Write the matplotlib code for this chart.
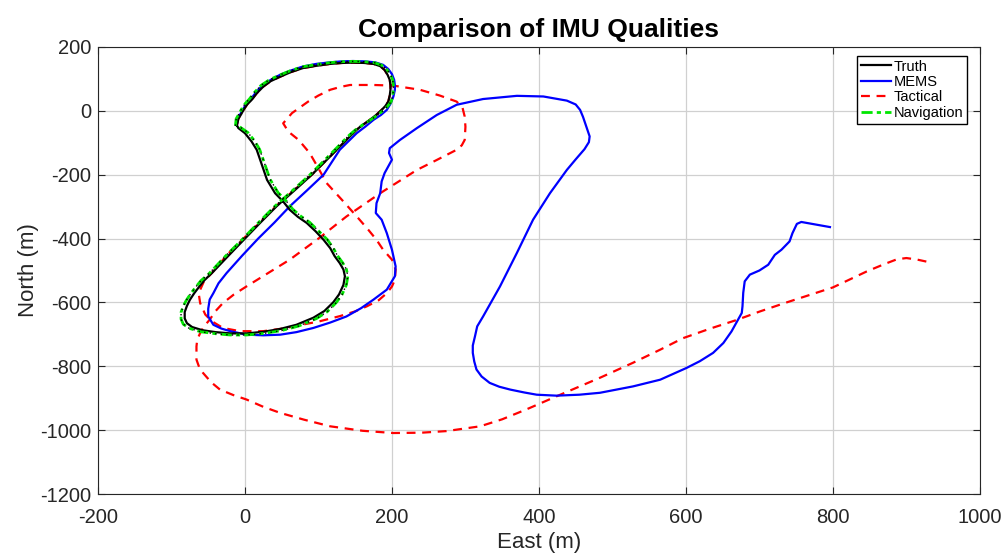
import matplotlib
matplotlib.use("Agg")
import matplotlib.pyplot as plt

plt.rcParams["font.family"] = ["Liberation Sans", "DejaVu Sans"]
plt.rcParams["axes.unicode_minus"] = False

# --- trajectories as (East, North) in metres ---
truth = [(-11, -45), (-9, -25), (-5, -10), (-2, 3), (3, 20), (9, 34), (16, 55), (25, 76),
         (35, 93), (48, 107), (62, 121), (79, 134), (97, 141), (116, 147), (132, 150),
         (147, 151), (162, 150), (175, 147), (184, 140), (190, 128), (194, 113), (197, 97),
         (198, 80), (198, 66), (197, 48), (195, 29), (191, 15), (186, 3), (179, -12),
         (170, -28), (161, -43), (152, -59), (145, -75), (138, -91), (115, -145), (91, -200),
         (67, -250), (43, -299), (21, -350), (0, -400), (-23, -455), (-45, -508), (-55, -530),
         (-62, -550), (-69, -571), (-75, -592), (-79, -611), (-82, -630), (-82, -650),
         (-79, -665), (-72, -677), (-58, -687), (-40, -693), (-20, -697), (2, -697),
         (25, -692), (48, -683), (70, -670), (93, -648), (108, -627), (120, -600),
         (128, -575), (134, -545), (136, -518), (134, -497), (129, -477), (122, -455),
         (116, -430), (107, -404), (96, -377), (84, -351), (72, -332), (61, -310), (52, -284),
         (41, -258), (30, -216), (23, -169), (16, -122), (9, -96), (0, -70), (-9, -54),
         (-11, -45)]

navigation = [(-13, -47), (-12, -25), (-8, -9), (-5, 4), (0, 22), (6, 37), (13, 58), (22, 80),
              (33, 97), (46, 111), (61, 125), (78, 138), (97, 145), (116, 151), (132, 154),
              (147, 155), (162, 154), (176, 151), (186, 143), (193, 130), (198, 114),
              (201, 97), (202, 80), (202, 66), (201, 48), (199, 29), (194, 14), (188, 1),
              (180, -14), (170, -30), (160, -44), (150, -60), (142, -76), (135, -92),
              (112, -146), (88, -201), (64, -251), (40, -300), (18, -351), (-3, -401),
              (-27, -456), (-49, -510), (-60, -532), (-67, -552), (-74, -573), (-80, -594),
              (-84, -612), (-87, -631), (-87, -652), (-84, -668), (-76, -681), (-60, -692),
              (-40, -698), (-20, -702), (2, -702), (26, -697), (50, -688), (73, -674),
              (97, -651), (112, -629), (124, -601), (132, -576), (138, -545), (140, -518),
              (138, -496), (133, -476), (126, -454), (120, -429), (112, -403), (100, -376),
              (88, -349), (76, -330), (65, -308), (56, -282), (45, -256), (34, -214),
              (27, -167), (20, -121), (13, -94), (4, -68), (-6, -52), (-9, -44)]

mems = [(-11, -45), (-10, -25), (-6, -9), (-3, 4), (2, 22), (8, 37), (15, 58), (24, 80),
        (35, 97), (47, 112), (62, 126), (79, 139), (97, 147), (116, 152), (132, 155),
        (147, 156), (162, 155), (177, 152), (188, 144), (195, 131), (200, 115), (203, 97),
        (204, 80), (204, 66), (202, 45), (198, 22), (193, 3), (185, -13), (175, -28),
        (164, -49), (152, -70), (141, -95), (129, -122), (107, -200), (84, -250), (61, -299),
        (40, -350), (18, -400), (-4, -454), (-25, -508), (-36, -540), (-43, -571),
        (-48, -591), (-50, -620), (-50, -644), (-43, -670), (-32, -682), (-20, -690),
        (2, -701), (25, -703), (48, -701), (70, -693), (93, -680), (116, -663), (138, -644),
        (158, -618), (175, -591), (193, -560), (204, -518), (205, -487), (203, -466),
        (200, -435), (193, -383), (186, -341), (178, -320), (179, -289), (184, -258),
        (186, -221), (190, -195), (195, -174), (200, -153), (196, -132), (197, -117),
        (211, -91), (234, -54), (261, -13), (288, 19), (324, 37), (370, 47), (406, 45),
        (438, 32), (450, 20), (456, 3), (460, -19), (463, -39), (466, -60), (469, -80),
        (468, -98), (462, -120), (450, -152), (438, -185), (415, -258), (392, -341),
        (370, -445), (347, -550), (324, -644), (316, -675), (313, -706), (310, -735),
        (310, -758), (312, -785), (315, -810), (322, -832), (333, -852), (346, -864),
        (361, -873), (380, -882), (397, -889), (424, -892), (455, -889), (483, -883),
        (528, -863), (565, -842), (601, -805), (619, -784), (637, -758), (651, -727),
        (662, -691), (671, -654), (676, -633), (677, -612), (678, -570), (680, -534),
        (687, -513), (700, -500), (712, -482), (721, -451), (730, -435), (741, -409),
        (745, -383), (751, -354), (757, -348), (796, -364)]

tactical = [(-11, -45), (-9, -25), (-5, -10), (-2, 3), (3, 20), (9, 34), (16, 55), (25, 76),
            (35, 93), (48, 107), (62, 121), (79, 134), (97, 141), (116, 147), (132, 150),
            (147, 151), (162, 150), (175, 147), (184, 140), (190, 128), (194, 113),
            (197, 97), (198, 80), (198, 66), (197, 48), (195, 29), (191, 15), (186, 3),
            (179, -12), (170, -28), (161, -43), (152, -59), (145, -75), (138, -91),
            (115, -145), (91, -200), (66, -250), (42, -299), (20, -350), (-2, -400),
            (-24, -450), (-42, -500), (-56, -535), (-63, -571), (-61, -602), (-54, -638),
            (-45, -659), (-30, -680), (-7, -690), (25, -690), (57, -680), (70, -673),
            (100, -660), (129, -643), (150, -628), (166, -612), (182, -593), (193, -571),
            (200, -550), (204, -529), (205, -497), (200, -466), (188, -435), (179, -404),
            (168, -373), (156, -341), (134, -284), (111, -226), (100, -180), (88, -132),
            (73, -91), (59, -65), (52, -39), (64, -7), (86, 29), (100, 48), (116, 66),
            (130, 75), (143, 81), (175, 81), (202, 79), (238, 66), (265, 48), (288, 29),
            (296, 10), (299, -18), (300, -50), (299, -91), (295, -108), (288, -122),
            (260, -155), (234, -185), (184, -258), (138, -331), (100, -400), (61, -466),
            (30, -510), (2, -550), (-15, -575), (-30, -602), (-40, -627), (-48, -654),
            (-56, -676), (-61, -696), (-65, -717), (-66, -738), (-66, -779), (-62, -805),
            (-57, -821), (-46, -850), (-34, -873), (-16, -890), (2, -904), (25, -927),
            (48, -946), (80, -967), (116, -988), (160, -1002), (202, -1009), (240, -1008),
            (274, -1003), (320, -988), (350, -966), (383, -935), (424, -894), (483, -836),
            (528, -789), (565, -748), (596, -712), (633, -682), (669, -655), (701, -628),
            (737, -600), (800, -553), (846, -503), (870, -480), (887, -465), (900, -461),
            (915, -466), (929, -473)]

series_names = ["Truth", "MEMS", "Tactical", "Navigation"]
x_ticks = [-200, 0, 200, 400, 600, 800, 1000]
y_ticks = [200, 0, -200, -400, -600, -800, -1000, -1200]

fig = plt.figure(figsize=(10.05, 5.56), dpi=100)
ax = fig.add_axes([0.0975, 0.1115, 0.8775, 0.804])

# tactical sits under the other traces where they overlap
ax.plot(*zip(*truth), color="k", lw=1.6, label=series_names[0], zorder=2.2)
ax.plot(*zip(*mems), color=(0, 0, 1), lw=1.6, label=series_names[1], zorder=2.1)
ax.plot(*zip(*tactical), color=(1, 0, 0), lw=1.6, ls=(0, (4, 3)), label=series_names[2],
        zorder=2.0)
ax.plot(*zip(*navigation), color=(0, 0.9, 0), lw=2.0, ls=(0, (4, 1.5, 1.5, 1.5)),
        label=series_names[3], zorder=2.3)
ax.plot(*zip(*navigation), color="k", lw=1.0, ls=(0, (1, 3)), zorder=2.4)

ax.set_xlim(-200, 1000)
ax.set_ylim(-1200, 200)
ax.set_xticks(x_ticks)
ax.set_yticks(y_ticks)
ax.grid(True, color="#d0d0d0", lw=0.9)
ax.set_axisbelow(True)
ax.tick_params(direction="in", length=5, width=0.8, top=True, right=True,
               labelsize=14.5, colors="#262626")
ax.tick_params(axis="x", pad=10)
ax.tick_params(axis="y", pad=5)
for sp in ax.spines.values():
    sp.set_color("#262626")
    sp.set_linewidth(0.8)

ax.set_title("Comparison of IMU Qualities", fontsize=19, fontweight="bold", pad=7)
ax.set_xlabel("East (m)", fontsize=16, color="#262626", labelpad=4)
ax.set_ylabel("North (m)", fontsize=16, color="#262626", labelpad=1)

leg = ax.legend(loc="upper right", bbox_to_anchor=(0.985, 0.98), fontsize=10.5,
                frameon=True, fancybox=False, edgecolor="k", framealpha=1,
                handlelength=2.1, handletextpad=0.15, labelspacing=0.1,
                borderpad=0.25, borderaxespad=0)
leg.get_frame().set_linewidth(1.0)
leg.set_zorder(5)

fig.savefig("out.png", dpi=100)
